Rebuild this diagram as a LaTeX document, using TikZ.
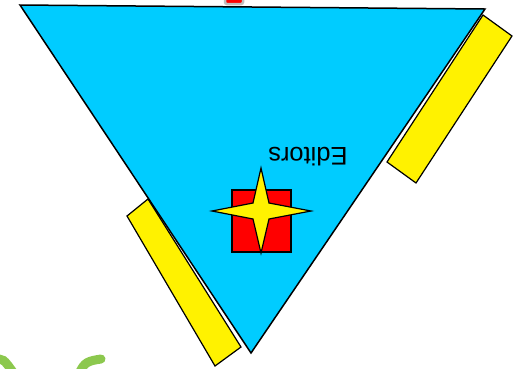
\documentclass[tikz,border=0pt]{standalone}
\usepackage{fontspec}
\setmainfont{Liberation Sans}
\usepackage{xcolor}
\definecolor{skyfill}{HTML}{00CCFF}
\definecolor{leafgreen}{HTML}{8CC84E}

\begin{document}
\begin{tikzpicture}[x=1pt,y=-1pt]
	\useasboundingbox (0,0) rectangle (520,368);
	
	% Marker at the top edge
	\draw[fill=red, draw=gray!50, line width=2.5pt, rounded corners=2pt] (225,-8) rectangle (243,4);
	
	% Left bar
	\draw[fill=yellow, line width=1.2pt] (127,216) -- (148,199) -- (241,347) -- (215,366) -- cycle;
	
	% Right bar
	\draw[fill=yellow, line width=1.2pt] (483,15) -- (512,36) -- (416,183) -- (387,162) -- cycle;
	
	% Triangle
	\draw[fill=skyfill, line width=1.5pt] (20,5) -- (485,9) -- (251,353) -- cycle;
	
	% Label
	\node[rotate=180, font=\fontsize{25.5}{26}\selectfont] (editors) at (308,157) {Editors};
	
	% Red square
	\draw[fill=red, line width=1.2pt] (232,190) rectangle (291,252);
	
	% Star
	\draw[fill=yellow, line width=1.2pt] (212,211) -- (253,203) -- (261,168) -- (269,203) -- (311,211) -- (269,219) -- (261,253) -- (253,219) -- cycle;
	
	% Green strokes
	\draw[leafgreen, line width=9pt] (-6,360) .. controls (3,358) .. (15,375);
	\draw[leafgreen, line width=9pt, line cap=round] (79,374) .. controls (84,362) and (88,361) .. (101,359);
\end{tikzpicture}
\end{document}
